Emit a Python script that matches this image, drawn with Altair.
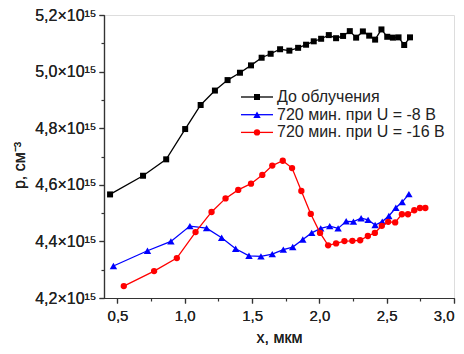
import altair as alt
import pandas as pd

# x in µm, p in units of 1e15 cm^-3
black_x = [0.445, 0.69, 0.862, 1.003, 1.118, 1.224, 1.318, 1.41, 1.492, 1.571, 1.638, 1.708,
           1.777, 1.842, 1.901, 1.958, 2.013, 2.07, 2.124, 2.176, 2.226, 2.273, 2.323, 2.37,
           2.414, 2.461, 2.504, 2.546, 2.588, 2.63, 2.673]
black_y = [4.566, 4.632, 4.690, 4.797, 4.882, 4.933, 4.970, 4.996, 5.022, 5.049, 5.063, 5.079,
           5.074, 5.084, 5.095, 5.107, 5.116, 5.129, 5.118, 5.126, 5.143, 5.120, 5.142, 5.127,
           5.113, 5.149, 5.123, 5.120, 5.121, 5.094, 5.121]

blue_x = [0.47, 0.723, 0.897, 1.038, 1.162, 1.274, 1.378, 1.477, 1.566, 1.65, 1.732, 1.802,
          1.877, 1.943, 2.01, 2.077, 2.139, 2.199, 2.253, 2.31, 2.362, 2.414, 2.467, 2.516,
          2.568, 2.615, 2.665]
blue_y = [4.313, 4.367, 4.400, 4.454, 4.447, 4.413, 4.374, 4.349, 4.347, 4.355, 4.371, 4.380,
          4.407, 4.430, 4.446, 4.454, 4.446, 4.471, 4.470, 4.482, 4.476, 4.458, 4.470, 4.490,
          4.519, 4.539, 4.567]

red_x = [0.547, 0.772, 0.941, 1.08, 1.199, 1.303, 1.397, 1.492, 1.576, 1.65, 1.728, 1.797,
         1.866, 1.936, 2.005, 2.065, 2.124, 2.186, 2.245, 2.303, 2.36, 2.412, 2.464, 2.511,
         2.563, 2.613, 2.658, 2.705, 2.747, 2.787]
red_y = [4.242, 4.295, 4.341, 4.433, 4.504, 4.552, 4.582, 4.604, 4.635, 4.668, 4.685, 4.659,
         4.578, 4.497, 4.430, 4.386, 4.393, 4.401, 4.402, 4.404, 4.419, 4.430, 4.455, 4.469,
         4.467, 4.496, 4.496, 4.510, 4.518, 4.518]

labels = ["До облучения", "720 мин. при U = -8 В", "720 мин. при U = -16 В"]
colors = ["#000000", "#0000FF", "#FF0000"]
shapes = ["square", "triangle-up", "circle"]
sizes = [36, 55, 40]

x_major = [0.5, 1.0, 1.5, 2.0, 2.5, 3.0]
x_minor = [0.75, 1.25, 1.75, 2.25, 2.75]
y_major = [4.2, 4.4, 4.6, 4.8, 5.0, 5.2]
y_minor = [4.3, 4.5, 4.7, 4.9, 5.1]

FONT = "Liberation Sans"
xs = alt.Scale(domain=[0.4, 3.0], nice=False, zero=False)
ys = alt.Scale(domain=[4.2, 5.2], nice=False, zero=False)

series = [(black_x, black_y), (blue_x, blue_y), (red_x, red_y)]

x_axis = alt.Axis(values=x_major, orient="bottom", grid=False, tickSize=5, labelFontSize=15,
                  labelFont=FONT, labelColor="#222", domainColor="#333", tickColor="#333",
                  domainWidth=1.2, tickWidth=1.2, labelPadding=5,
                  labelExpr="replace(format(datum.value, '.1f'), '.', ',')",
                  title="x, мкм", titleFont=FONT, titleFontSize=16, titleFontWeight="normal",
                  titleColor="#222", titleY=44, titleBaseline="alphabetic")
y_axis = alt.Axis(values=y_major, orient="left", grid=False, tickSize=5, labelFontSize=16,
                  labelFont=FONT, labelColor="#222", domainColor="#333", tickColor="#333",
                  domainWidth=1.2, tickWidth=1.2, labelPadding=3,
                  labelExpr="replace(format(datum.value, '.1f'), '.', ',') + '×10¹⁵'",
                  title="p, см⁻³", titleFont=FONT, titleFontSize=16, titleFontWeight="normal",
                  titleColor="#222", titleX=-80, titleY=150, titleAngle=-90,
                  titleAlign="center", titleBaseline="alphabetic")

layers = []
for i, (sx, sy) in enumerate(series):
    df = pd.DataFrame({"x": sx, "p": sy})
    if i == 0:
        xe = alt.X("x:Q", scale=xs, axis=x_axis)
        ye = alt.Y("p:Q", scale=ys, axis=y_axis)
    else:
        xe = alt.X("x:Q", scale=xs, axis=None)
        ye = alt.Y("p:Q", scale=ys, axis=None)
    line = alt.Chart(df).mark_line(color=colors[i], strokeWidth=1.3).encode(x=xe, y=ye)
    pts = alt.Chart(df).mark_point(shape=shapes[i], filled=True, color=colors[i],
                                   size=sizes[i], opacity=1).encode(x=xe, y=ye)
    layers += [line, pts]

# minor ticks
minor_df = pd.DataFrame({"x": black_x, "p": black_y})
minor = alt.Chart(minor_df).mark_point(opacity=0).encode(
    x=alt.X("x:Q", scale=xs, axis=alt.Axis(values=x_minor, orient="bottom", labels=False,
                                              domain=False, grid=False, tickSize=3,
                                              tickColor="#333", tickWidth=1.2, title=None)),
    y=alt.Y("p:Q", scale=ys, axis=alt.Axis(values=y_minor, orient="left", labels=False,
                                              domain=False, grid=False, tickSize=3,
                                              tickColor="#333", tickWidth=1.2, title=None)),
)

# legend
leg_y = [82, 99.7, 117.4]
leg_layers = []
for i, lab in enumerate(labels):
    ld = pd.DataFrame({"label": [lab]})
    leg_layers.append(alt.Chart(ld).mark_rule(color=colors[i], strokeWidth=1.3).encode(
        x=alt.value(137), x2=alt.value(169), y=alt.value(leg_y[i])))
    leg_layers.append(alt.Chart(ld).mark_point(shape=shapes[i], filled=True, color=colors[i],
                                               size=sizes[i], opacity=1).encode(
        x=alt.value(153), y=alt.value(leg_y[i])))
    leg_layers.append(alt.Chart(ld).mark_text(align="left", baseline="middle", font=FONT,
                                              fontSize=16, color="#222").encode(
        x=alt.value(173), y=alt.value(leg_y[i]), text="label:N"))

chart = alt.layer(*layers, minor, *leg_layers).resolve_axis(
    x="independent", y="independent"
).properties(
    width=350, height=283,
    autosize=alt.AutoSizeParams(type="none"),
    padding={"left": 96, "top": 7, "right": 2, "bottom": 48},
).configure_view(stroke=None).configure(background="white")

chart.save("out.html", embed_options={"renderer": "svg", "actions": False})
